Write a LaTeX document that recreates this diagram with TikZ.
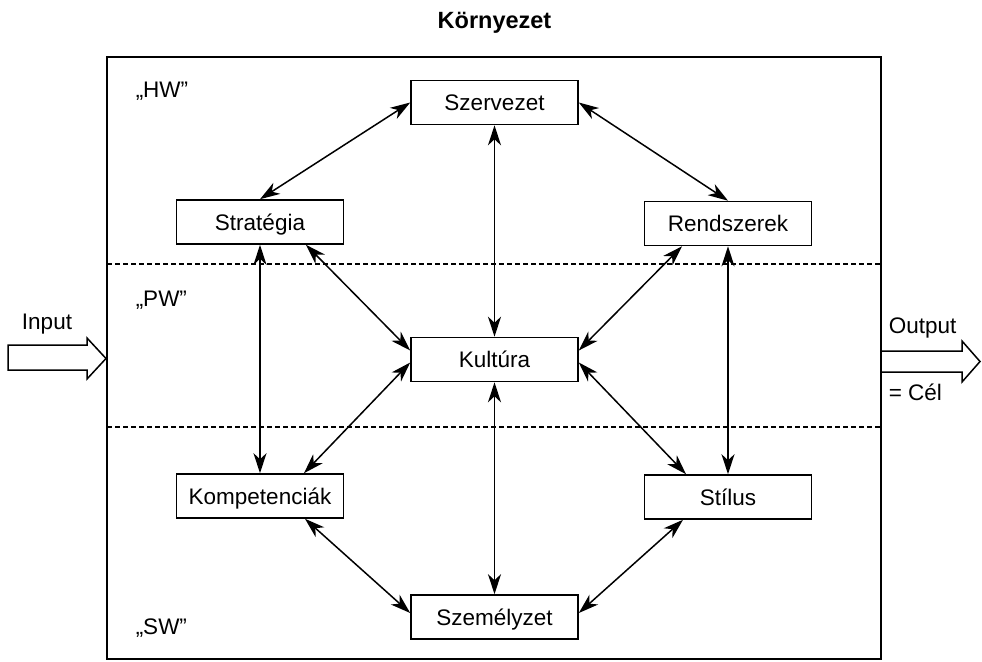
\documentclass[tikz,border=0pt]{standalone}
\usepackage{fontspec}
\setmainfont{Liberation Sans}
\usetikzlibrary{arrows.meta}

\begin{document}
\begin{tikzpicture}[x=1pt,y=-1pt,line width=1.5pt,
  every node/.style={font=\fontsize{22.5pt}{27pt}\selectfont,inner sep=0pt},
  box/.style={draw,line width=1.6pt,minimum width=167pt,minimum height=44pt,
    text height=16pt,text depth=0pt},
  link/.style={{Stealth[length=20pt,width=13pt,inset=6pt]}-{Stealth[length=20pt,width=13pt,inset=6pt]},
    line width=1.5pt},
  layer/.style={dash pattern=on 5pt off 3pt,line width=1.3pt},
  blockarrow/.style={line width=1.5pt,line join=miter,fill=white}]
  \useasboundingbox (0,0) rectangle (982,661);
  % environment frame
  \coordinate (NW) at (107,57);
  \coordinate (SE) at (881,659);
  \node[anchor=base,font=\fontsize{23.5pt}{27pt}\selectfont\bfseries] (env) at (494.5,29) {Környezet};
  \draw[line width=2.6pt] (NW) rectangle (SE);
  \draw[layer] (107,264) -- (881,264);
  \draw[layer] (107,427) -- (881,427);
  \node[anchor=west] (hw) at (135,91) {„HW”};
  \node[anchor=west] (pw) at (135,300) {„PW”};
  \node[anchor=west] (sw) at (135,628) {„SW”};
  % elements
  \node[box] (szerv) at (494.5,102.5) {Szervezet};
  \node[box] (strat) at (260,222) {Stratégia};
  \node[box] (rend)  at (728,223.5) {Rendszerek};
  \node[box] (kult)  at (494.5,359.5) {Kultúra};
  \node[box] (komp)  at (260,496) {Kompetenciák};
  \node[box] (stil)  at (728,497) {Stílus};
  \node[box] (szem)  at (494.5,617) {Személyzet};
  % shifted ends of the diagonal links
  \coordinate (stratS) at ([xshift=46pt]strat.south);
  \coordinate (rendS)  at ([xshift=-46pt]rend.south);
  \coordinate (kompN)  at ([xshift=44pt]komp.north);
  \coordinate (stilN)  at ([xshift=-42pt]stil.north);
  \coordinate (kompS)  at ([xshift=45pt]komp.south);
  \coordinate (stilS)  at ([xshift=-45pt]stil.south);
  \coordinate (kultWu) at ([yshift=9pt]kult.west);
  \coordinate (kultEu) at ([yshift=9pt]kult.east);
  \coordinate (kultWd) at ([yshift=-3pt]kult.west);
  \coordinate (kultEd) at ([yshift=-3pt]kult.east);
  \coordinate (szemW)  at ([yshift=4pt]szem.west);
  \coordinate (szemE)  at ([yshift=4pt]szem.east);
  \foreach \a/\b in {strat.north/szerv.west,szerv.east/rend.north,
      szerv.south/kult.north,strat.south/komp.north,rend.south/stil.north,
      kult.south/szem.north,stratS/kultWu,rendS/kultEu,kompN/kultWd,
      stilN/kultEd,kompS/szemW,stilS/szemE}
    \draw[link] (\a) -- (\b);
  % input and output
  \draw[blockarrow] (8,345) -- (87,345) -- (87,338) -- (106,358.5) -- (87,379)
    -- (87,370) -- (8,370) -- cycle;
  \draw[blockarrow] (882,351) -- (962,351) -- (962,341) -- (980,361.5) -- (962,382)
    -- (962,372) -- (882,372);
  \node[anchor=base] (in) at (47,329) {Input};
  \node[anchor=base west] (out) at (888,333) {Output};
  \node[anchor=base west] (cel) at (888,400) {= Cél};
\end{tikzpicture}
\end{document}
